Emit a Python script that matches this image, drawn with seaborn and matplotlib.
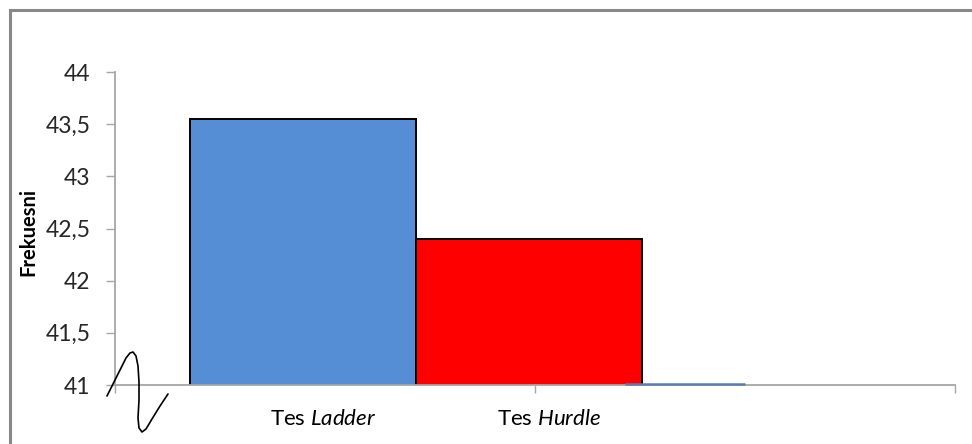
import matplotlib
matplotlib.use("Agg")
import matplotlib.pyplot as plt
import seaborn as sns
import pandas as pd
from matplotlib.patches import Rectangle
from matplotlib.lines import Line2D
from matplotlib.ticker import FuncFormatter
from matplotlib.transforms import blended_transform_factory

# ---- data ----
categories = ["Tes Ladder", "Tes Hurdle"]
frekuensi = [43.55, 42.40]
bar_colors = ["#558ED5", "#FF0000"]
y_ticks = [41, 41.5, 42, 42.5, 43, 43.5, 44]
y_label = "Frekuesni"
label_prefix = ["Tes", "Tes"]
label_italic = ["Ladder", "Hurdle"]

sns.set_theme(style="white")
plt.rcParams["font.family"] = ["Lato", "DejaVu Sans"]
plt.rcParams["mathtext.fontset"] = "custom"
plt.rcParams["mathtext.rm"] = "Lato"
plt.rcParams["mathtext.it"] = "Lato:italic"

W, H = 972, 444
df = pd.DataFrame({"kategori": categories, "nilai": frekuensi})

fig = plt.figure(figsize=(W / 100, H / 100), dpi=100)
fig.patch.set_facecolor("white")
ax = fig.add_axes([115 / W, (H - 385) / H, 840 / W, 313 / H])

sns.barplot(data=df, x="kategori", y="nilai", hue="kategori",
            palette=bar_colors, width=1.0, saturation=1,
            edgecolor="black", linewidth=1.4, ax=ax, legend=False)

ax.set_ylim(41, 44)
ax.set_yticks(y_ticks)
ax.yaxis.set_major_formatter(FuncFormatter(lambda v, p: f"{v:g}".replace(".", ",")))

unit = 226.0
x_lo = (115 - 303) / unit
x_hi = (955 - 303) / unit
ax.set_xlim(x_lo, x_hi)
ax.set_xticks([x_lo, (x_lo + x_hi) / 2, x_hi])
ax.set_xticklabels([])
ax.set_xlabel("")
ax.set_ylabel("")

gray = "#A6A6A6"
for s in ["top", "right"]:
    ax.spines[s].set_visible(False)
for s in ["left", "bottom"]:
    ax.spines[s].set_color(gray)
    ax.spines[s].set_linewidth(1.3)
ax.tick_params(axis="y", direction="out", length=6.5, width=1.0, color=gray,
               pad=11, labelsize=16.5, labelcolor="#262626", left=True)
ax.tick_params(axis="x", direction="out", length=6, width=1.0, color=gray,
               bottom=True)

# faint third-series remnant along the baseline
ax.plot([(625 - 303) / unit, (745 - 303) / unit], [41.012, 41.012],
        color="#5A7EB0", lw=1.8, solid_capstyle="butt", clip_on=False, zorder=3)

# category labels (Tes + italic)
tr = blended_transform_factory(ax.transData, fig.transFigure)
for i, (p, it) in enumerate(zip(label_prefix, label_italic)):
    ax.text(i + 0.09, (H - 425) / H, p + " $\\mathit{" + it + "}$",
            transform=tr, ha="center", va="baseline", fontsize=16,
            color="black")

fig.text(28 / W, 1 - 232 / H, y_label, rotation=90, fontweight="bold",
         fontsize=14.5, ha="center", va="center", color="black")

# axis-break squiggle
pts = [(107, 396), (112, 386), (117, 376), (122, 366), (126, 358), (130, 353),
       (133, 352), (136, 356), (138, 366), (139, 382), (139, 400), (138, 418),
       (139, 428), (142, 432), (146, 429), (152, 419), (160, 406), (168, 394)]
fig.add_artist(Line2D([x / W for x, y in pts], [1 - y / H for x, y in pts],
                      color="black", lw=1.2, transform=fig.transFigure))

# chart-area border
fig.add_artist(Rectangle((9.5 / W, -0.2), 1.2, 1 - 10.5 / H + 0.2,
                         transform=fig.transFigure, fill=False,
                         edgecolor="#888888", lw=2.2))

fig.savefig("out.png", dpi=100)
